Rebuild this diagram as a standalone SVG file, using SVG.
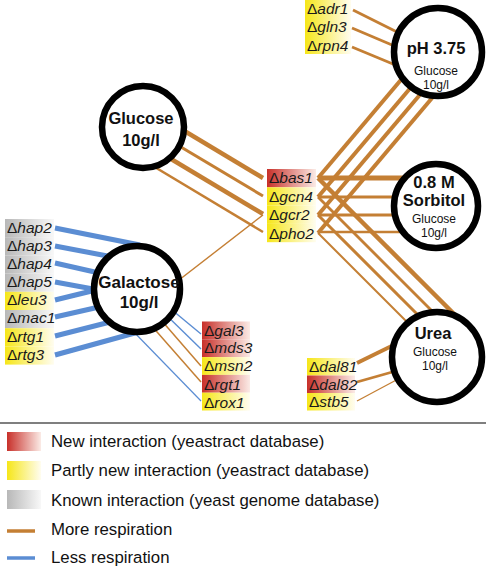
<svg xmlns="http://www.w3.org/2000/svg" width="486" height="568" viewBox="0 0 486 568">
<defs>
<linearGradient id="gRed" x1="0" y1="0" x2="1" y2="0"><stop offset="0" stop-color="#c8302a"/><stop offset="1" stop-color="#fbebe6"/></linearGradient>
<linearGradient id="gYel" x1="0" y1="0" x2="1" y2="0"><stop offset="0" stop-color="#f6e619"/><stop offset="1" stop-color="#fffdf0"/></linearGradient>
<linearGradient id="gGry" x1="0" y1="0" x2="1" y2="0"><stop offset="0" stop-color="#b8b8b8"/><stop offset="1" stop-color="#f8f8f8"/></linearGradient>
<style>
.br{stroke:#c47f34;fill:none;stroke-linecap:butt}
.bl{stroke:#5b8dd3;fill:none;stroke-linecap:butt}
.circ{fill:#fff;stroke:#000;stroke-width:6.5}
.ct{font-family:"Liberation Sans",Arial,sans-serif;font-weight:bold;text-anchor:middle;fill:#111}
.cs{font-family:"Liberation Sans",Arial,sans-serif;font-size:12px;text-anchor:middle;fill:#111}
.lb{font-family:"Liberation Sans",Arial,sans-serif;font-size:15.5px;font-style:italic;fill:#1a1a1a}
.d{font-style:normal}
.lg{font-family:"Liberation Sans",Arial,sans-serif;font-size:16.8px;fill:#111}
</style>
</defs>
<rect width="486" height="568" fill="#fff"/>

<g id="connectors">
<line class="br" x1="152" y1="111.5" x2="263" y2="178" stroke-width="4.5"/>
<line class="br" x1="144" y1="125" x2="263" y2="196" stroke-width="3"/>
<line class="br" x1="136" y1="138" x2="263" y2="214" stroke-width="4.5"/>
<line class="br" x1="128" y1="151" x2="263" y2="232" stroke-width="2.5"/>
<line class="br" x1="148" y1="304" x2="263" y2="215" stroke-width="1.4"/>
<line class="br" x1="318" y1="178" x2="430" y2="45.5" stroke-width="4"/>
<line class="br" x1="318" y1="197" x2="439.6" y2="53.5" stroke-width="4"/>
<line class="br" x1="318" y1="215" x2="448.5" y2="61" stroke-width="4"/>
<line class="br" x1="318" y1="233" x2="457" y2="68.5" stroke-width="4"/>
<line class="br" x1="318" y1="178" x2="436" y2="178" stroke-width="5"/>
<line class="br" x1="318" y1="197" x2="436" y2="197" stroke-width="3"/>
<line class="br" x1="318" y1="215" x2="436" y2="215" stroke-width="3"/>
<line class="br" x1="318" y1="232" x2="436" y2="232" stroke-width="2.5"/>
<line class="br" x1="318" y1="178" x2="467" y2="327" stroke-width="4.5"/>
<line class="br" x1="318" y1="197" x2="457.5" y2="336.5" stroke-width="2.8"/>
<line class="br" x1="318" y1="215" x2="448.5" y2="345.5" stroke-width="3"/>
<line class="br" x1="318" y1="233" x2="439.5" y2="354.5" stroke-width="2"/>
<line class="br" x1="353" y1="10" x2="410" y2="38.5" stroke-width="2.8"/>
<line class="br" x1="352" y1="28" x2="405" y2="50.5" stroke-width="2.8"/>
<line class="br" x1="352" y1="47" x2="405" y2="69" stroke-width="2.8"/>
<line class="br" x1="357" y1="363" x2="410" y2="337" stroke-width="4"/>
<line class="br" x1="357" y1="382" x2="410" y2="367" stroke-width="2.8"/>
<line class="br" x1="357" y1="401" x2="415" y2="370" stroke-width="1.3"/>
<line class="bl" x1="55" y1="228" x2="140" y2="245" stroke-width="5"/>
<line class="bl" x1="55" y1="246" x2="118" y2="258" stroke-width="5"/>
<line class="bl" x1="55" y1="263" x2="108" y2="275" stroke-width="5"/>
<line class="bl" x1="55" y1="282" x2="104" y2="291" stroke-width="5"/>
<line class="bl" x1="55" y1="300" x2="104" y2="288" stroke-width="5"/>
<line class="bl" x1="55" y1="317" x2="108" y2="305" stroke-width="5"/>
<line class="bl" x1="55" y1="336" x2="118" y2="320" stroke-width="5"/>
<line class="bl" x1="55" y1="355" x2="142" y2="331" stroke-width="5"/>
<line class="bl" x1="166" y1="305" x2="201" y2="334" stroke-width="1.4"/>
<line class="bl" x1="160" y1="309" x2="201" y2="349" stroke-width="1.4"/>
<line class="br" x1="155" y1="313" x2="201" y2="366" stroke-width="1.5"/>
<line class="br" x1="150" y1="324" x2="201" y2="382" stroke-width="1.5"/>
<line class="bl" x1="130" y1="328" x2="201" y2="401" stroke-width="1.2"/>
</g>

<g id="node-glucose">
<circle class="circ" cx="143" cy="127" r="41"/>
<text class="ct" x="141" y="124" font-size="16.5">Glucose</text>
<text class="ct" x="141" y="146" font-size="16.5">10g/l</text>
</g>
<g id="node-galactose">
<circle class="circ" cx="137" cy="289" r="43"/>
<text class="ct" x="139" y="288" font-size="17">Galactose</text>
<text class="ct" x="139" y="308" font-size="17">10g/l</text>
</g>
<g id="node-ph">
<circle class="circ" cx="438" cy="52" r="44"/>
<text class="ct" x="436" y="54" font-size="16.5">pH 3.75</text>
<text class="cs" x="436" y="75">Glucose</text>
<text class="cs" x="436" y="88.5">10g/l</text>
</g>
<g id="node-sorbitol">
<circle class="circ" cx="436" cy="206" r="42"/>
<text class="ct" x="434" y="188" font-size="16.5">0.8 M</text>
<text class="ct" x="434" y="206" font-size="16.5">Sorbitol</text>
<text class="cs" x="434" y="223">Glucose</text>
<text class="cs" x="434" y="236.5">10g/l</text>
</g>
<g id="node-urea">
<circle class="circ" cx="437" cy="357" r="45"/>
<text class="ct" x="433" y="339" font-size="16.5">Urea</text>
<text class="cs" x="435" y="356">Glucose</text>
<text class="cs" x="435" y="369.5">10g/l</text>
</g>

<g id="genes-ph">
<rect x="305" y="0" width="46" height="18" fill="url(#gYel)"/>
<rect x="305" y="18" width="46" height="18" fill="url(#gYel)"/>
<rect x="305" y="36" width="46" height="18" fill="url(#gYel)"/>
<text class="lb" x="307" y="14"><tspan class="d">Δ</tspan>adr1</text>
<text class="lb" x="307" y="32"><tspan class="d">Δ</tspan>gln3</text>
<text class="lb" x="307" y="51"><tspan class="d">Δ</tspan>rpn4</text>
</g>

<g id="genes-center">
<rect x="267" y="169" width="49" height="18.3" fill="url(#gRed)"/>
<rect x="267" y="187.3" width="49" height="18.3" fill="url(#gYel)"/>
<rect x="267" y="205.6" width="49" height="18.3" fill="url(#gYel)"/>
<rect x="267" y="223.9" width="49" height="18.3" fill="url(#gYel)"/>
<text class="lb" x="269" y="183"><tspan class="d">Δ</tspan>bas1</text>
<text class="lb" x="269" y="202"><tspan class="d">Δ</tspan>gcn4</text>
<text class="lb" x="269" y="220"><tspan class="d">Δ</tspan>gcr2</text>
<text class="lb" x="269" y="239"><tspan class="d">Δ</tspan>pho2</text>
</g>

<g id="genes-galactose-left">
<rect x="5" y="219" width="49" height="18.2" fill="url(#gGry)"/>
<rect x="5" y="237.2" width="49" height="18.2" fill="url(#gGry)"/>
<rect x="5" y="255.4" width="49" height="18.2" fill="url(#gGry)"/>
<rect x="5" y="273.6" width="49" height="18.2" fill="url(#gGry)"/>
<rect x="5" y="291.8" width="49" height="18.2" fill="url(#gYel)"/>
<rect x="5" y="310" width="49" height="18.2" fill="url(#gGry)"/>
<rect x="5" y="328.2" width="49" height="18.2" fill="url(#gYel)"/>
<rect x="5" y="346.4" width="49" height="18.2" fill="url(#gYel)"/>
<text class="lb" x="7" y="233"><tspan class="d">Δ</tspan>hap2</text>
<text class="lb" x="7" y="251"><tspan class="d">Δ</tspan>hap3</text>
<text class="lb" x="7" y="269"><tspan class="d">Δ</tspan>hap4</text>
<text class="lb" x="7" y="287"><tspan class="d">Δ</tspan>hap5</text>
<text class="lb" x="7" y="305"><tspan class="d">Δ</tspan>leu3</text>
<text class="lb" x="7" y="323"><tspan class="d">Δ</tspan>mac1</text>
<text class="lb" x="7" y="342"><tspan class="d">Δ</tspan>rtg1</text>
<text class="lb" x="7" y="360"><tspan class="d">Δ</tspan>rtg3</text>
</g>

<g id="genes-galactose-right">
<rect x="202" y="321.5" width="48" height="17.8" fill="url(#gRed)"/>
<rect x="202" y="339.3" width="48" height="17.8" fill="url(#gRed)"/>
<rect x="202" y="357.1" width="48" height="17.8" fill="url(#gYel)"/>
<rect x="202" y="374.9" width="48" height="17.8" fill="url(#gRed)"/>
<rect x="202" y="392.7" width="48" height="17.8" fill="url(#gYel)"/>
<text class="lb" x="204" y="335.5"><tspan class="d">Δ</tspan>gal3</text>
<text class="lb" x="204" y="353"><tspan class="d">Δ</tspan>mds3</text>
<text class="lb" x="204" y="371"><tspan class="d">Δ</tspan>msn2</text>
<text class="lb" x="204" y="390"><tspan class="d">Δ</tspan>rgt1</text>
<text class="lb" x="204" y="408"><tspan class="d">Δ</tspan>rox1</text>
</g>

<g id="genes-urea">
<rect x="307" y="358" width="48" height="17.5" fill="url(#gYel)"/>
<rect x="307" y="375.5" width="48" height="17.5" fill="url(#gRed)"/>
<rect x="307" y="393" width="48" height="17.5" fill="url(#gYel)"/>
<text class="lb" x="309" y="372"><tspan class="d">Δ</tspan>dal81</text>
<text class="lb" x="309" y="390"><tspan class="d">Δ</tspan>dal82</text>
<text class="lb" x="309" y="407"><tspan class="d">Δ</tspan>stb5</text>
</g>

<g id="legend">
<line x1="0" y1="423" x2="486" y2="423" stroke="#555" stroke-width="1.5"/>
<rect x="7" y="432" width="34" height="19" fill="url(#gRed)"/>
<rect x="7" y="461" width="34" height="19" fill="url(#gYel)"/>
<rect x="7" y="490" width="34" height="19" fill="url(#gGry)"/>
<line x1="7" y1="531" x2="35" y2="531" stroke="#c47f34" stroke-width="3.5"/>
<line x1="7" y1="558" x2="35" y2="558" stroke="#5b8dd3" stroke-width="3.5"/>
<text class="lg" x="51" y="447">New interaction (yeastract database)</text>
<text class="lg" x="51" y="476">Partly new interaction (yeastract database)</text>
<text class="lg" x="51" y="506">Known interaction (yeast genome database)</text>
<text class="lg" x="51" y="535">More respiration</text>
<text class="lg" x="51" y="563">Less respiration</text>
</g>
</svg>
